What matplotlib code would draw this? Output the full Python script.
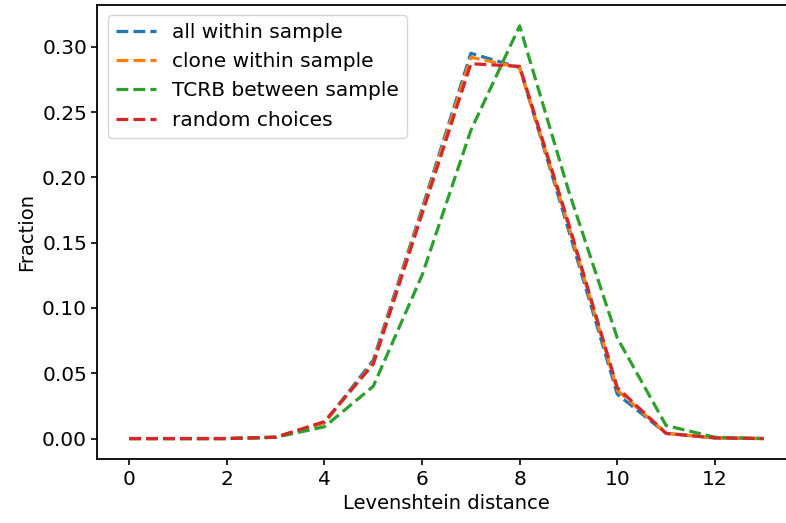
import matplotlib

matplotlib.use("Agg")
import matplotlib.pyplot as plt
import numpy as np

# Levenshtein distance bins and fraction per method
distance = np.arange(14)
all_within = [0.0, 0.0, 0.0, 0.001, 0.012, 0.060, 0.176, 0.295, 0.284, 0.160, 0.034, 0.004, 0.0005, 0.0]
clone_within = [0.0, 0.0, 0.0, 0.001, 0.012, 0.058, 0.174, 0.292, 0.284, 0.163, 0.037, 0.004, 0.0005, 0.0]
tcrb_between = [0.0, 0.0, 0.0, 0.001, 0.009, 0.040, 0.125, 0.236, 0.316, 0.190, 0.077, 0.010, 0.001, 0.0]
random_choices = [0.0, 0.0, 0.0, 0.001, 0.013, 0.057, 0.172, 0.287, 0.285, 0.165, 0.039, 0.004, 0.0005, 0.0]

fig = plt.figure(figsize=(7.86, 5.23), dpi=100)
# axes runs slightly past the right edge, as in the cropped original
ax = fig.add_axes([0.124, 0.122, 0.888, 0.868])
ax.plot(distance, all_within, "--", color="tab:blue", lw=2.3, label="all within sample")
ax.plot(distance, clone_within, "--", color="tab:orange", lw=2.3, label="clone within sample")
ax.plot(distance, tcrb_between, "--", color="tab:green", lw=2.3, label="TCRB between sample")
ax.plot(distance, random_choices, "--", color="tab:red", lw=2.3, label="random choices")

ax.set_xlabel("Levenshtein distance", fontsize=14)
ax.set_ylabel("Fraction", fontsize=14)
ax.tick_params(labelsize=14.5, width=1.2, length=4)
for s in ax.spines.values():
    s.set_linewidth(1.3)
ax.set_xticks(range(0, 13, 2))
ax.set_yticks(np.arange(0, 0.31, 0.05))
ax.legend(loc="upper left", fontsize=14.5, handlelength=2)
fig.savefig("out.png", dpi=100)
plt.close(fig)
